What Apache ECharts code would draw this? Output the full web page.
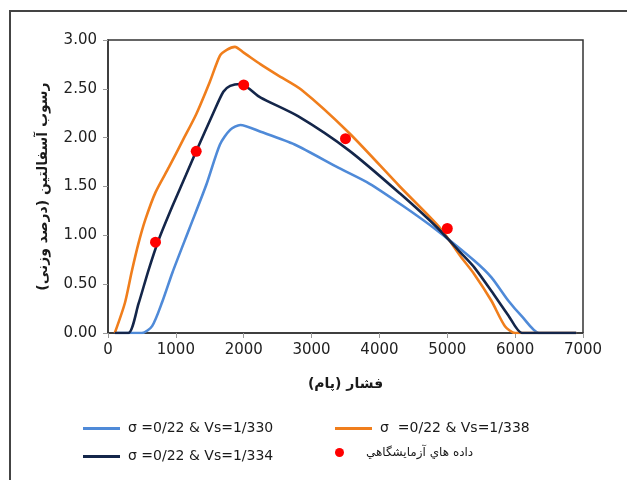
<!DOCTYPE html>
<html>
<head>
<meta charset="utf-8">
<script src="https://cdn.jsdelivr.net/npm/echarts@6/dist/echarts.min.js"></script>
<style>
html,body{margin:0;padding:0;background:#fff;}
#c{width:627px;height:480px;}
</style>
</head>
<body>
<div id="c"></div>
<script>
// ---- data ----
const seriesNames = ['σ =0/22 & Vs=1/330', 'σ  =0/22 & Vs=1/338', 'σ =0/22 & Vs=1/334', 'داده هاي آزمايشگاهي'];

const pressure330 = [100, 300, 500, 650, 800, 950, 1200, 1450, 1650, 1800, 1950, 2250, 2750, 3400, 3850, 4350, 4850, 5400, 5650, 5900, 6100, 6350, 6500, 6700, 6900];
const deposit330  = [0, 0, 0, 0.07, 0.32, 0.62, 1.07, 1.52, 1.93, 2.08, 2.13, 2.06, 1.93, 1.69, 1.53, 1.30, 1.05, 0.74, 0.57, 0.33, 0.17, 0, 0, 0, 0];

const pressure338 = [100, 250, 350, 450, 550, 700, 900, 1100, 1300, 1500, 1650, 1750, 1870, 2000, 2250, 2500, 2850, 3550, 4300, 4900, 5200, 5400, 5650, 5850, 6000, 6300, 6500, 6700, 6900];
const deposit338  = [0, 0.31, 0.63, 0.92, 1.16, 1.44, 1.70, 1.97, 2.24, 2.57, 2.84, 2.90, 2.93, 2.87, 2.75, 2.64, 2.49, 2.05, 1.50, 1.07, 0.78, 0.60, 0.33, 0.07, 0, 0, 0, 0, 0];

const pressure334 = [100, 300, 450, 600, 750, 950, 1150, 1300, 1550, 1700, 1800, 1950, 2250, 2800, 3550, 4300, 4850, 5200, 5400, 5650, 5900, 6100, 6300, 6500, 6700, 6900];
const deposit334  = [0, 0, 0.30, 0.65, 0.96, 1.30, 1.62, 1.86, 2.25, 2.47, 2.53, 2.55, 2.41, 2.22, 1.87, 1.43, 1.08, 0.82, 0.67, 0.43, 0.18, 0, 0, 0, 0, 0];

const labPressure = [700, 1300, 2000, 3500, 5000];
const labDeposit  = [0.93, 1.86, 2.54, 1.99, 1.07];

const xTicks = [0, 1000, 2000, 3000, 4000, 5000, 6000, 7000];
const yTicks = [0, 0.5, 1, 1.5, 2, 2.5, 3];

const xTitle = 'فشار (پام)';
const yTitle = 'رسوب آسفالتین (درصد وزنی)';

// ---- build ----
const pairs = (xs, ys) => xs.map((x, i) => [x, ys[i]]);
const FONT = 'DejaVu Sans';
const colors = ['#4f8ad8', '#f07e1c', '#14264a', '#ff0000'];

const chart = echarts.init(document.getElementById('c'), null, {renderer: 'canvas'});

function lineSeries(name, data, color) {
  return {
    name: name, type: 'line', data: data, symbol: 'none', smooth: 0.25,
    lineStyle: {color: color, width: 2.6}, itemStyle: {color: color}, animation: false
  };
}

function legendItem(name, left, top, isDot) {
  return {
    data: [{name: name, icon: isDot ? 'circle' : 'rect'}],
    left: left, top: top,
    itemWidth: 37, itemHeight: isDot ? 9 : 3, itemGap: 0,
    textStyle: {fontFamily: FONT, fontSize: isDot ? 12 : 14, color: '#1a1a1a', padding: [0, 0, 0, 3]},
    selectedMode: false, padding: 0
  };
}

chart.setOption({
  animation: false,
  backgroundColor: '#ffffff',
  graphic: [{
    type: 'rect', shape: {x: 10, y: 11, width: 700, height: 600},
    style: {fill: 'none', stroke: '#444', lineWidth: 2}, silent: true, z: 0
  }],
  grid: {left: 108, top: 40, width: 475, height: 293, show: true, borderColor: '#333', borderWidth: 1.5, backgroundColor: 'transparent'},
  xAxis: {
    type: 'value', min: xTicks[0], max: xTicks[xTicks.length - 1], interval: 1000,
    name: xTitle, nameLocation: 'middle', nameGap: 44,
    nameTextStyle: {fontFamily: FONT, fontSize: 14, fontWeight: 'bold', color: '#1a1a1a'},
    axisLine: {show: true, lineStyle: {color: '#333', width: 1.5}},
    axisTick: {show: true, length: 5, lineStyle: {color: '#999'}},
    axisLabel: {fontFamily: FONT, fontSize: 15, color: '#222', margin: 10, formatter: v => String(v)},
    splitLine: {show: false}
  },
  yAxis: {
    type: 'value', min: yTicks[0], max: yTicks[yTicks.length - 1], interval: 0.5,
    name: yTitle, nameLocation: 'middle', nameGap: 58, nameRotate: 90,
    nameTextStyle: {fontFamily: FONT, fontSize: 14, fontWeight: 'bold', color: '#1a1a1a'},
    axisLine: {show: true, lineStyle: {color: '#333', width: 1.5}},
    axisTick: {show: true, length: 5, lineStyle: {color: '#999'}},
    axisLabel: {fontFamily: FONT, fontSize: 15, color: '#222', margin: 11, formatter: v => v.toFixed(2)},
    splitLine: {show: false}
  },
  legend: [
    legendItem(seriesNames[0], 83, 421.5, false),
    legendItem(seriesNames[1], 335, 421.5, false),
    legendItem(seriesNames[2], 83, 449.5, false),
    legendItem(seriesNames[3], 335, 446.5, true)
  ],
  series: [
    lineSeries(seriesNames[0], pairs(pressure330, deposit330), colors[0]),
    lineSeries(seriesNames[1], pairs(pressure338, deposit338), colors[1]),
    lineSeries(seriesNames[2], pairs(pressure334, deposit334), colors[2]),
    {
      name: seriesNames[3], type: 'scatter', data: pairs(labPressure, labDeposit),
      symbol: 'circle', symbolSize: 11, itemStyle: {color: colors[3], opacity: 1}, z: 5
    }
  ]
});
</script>
</body>
</html>
